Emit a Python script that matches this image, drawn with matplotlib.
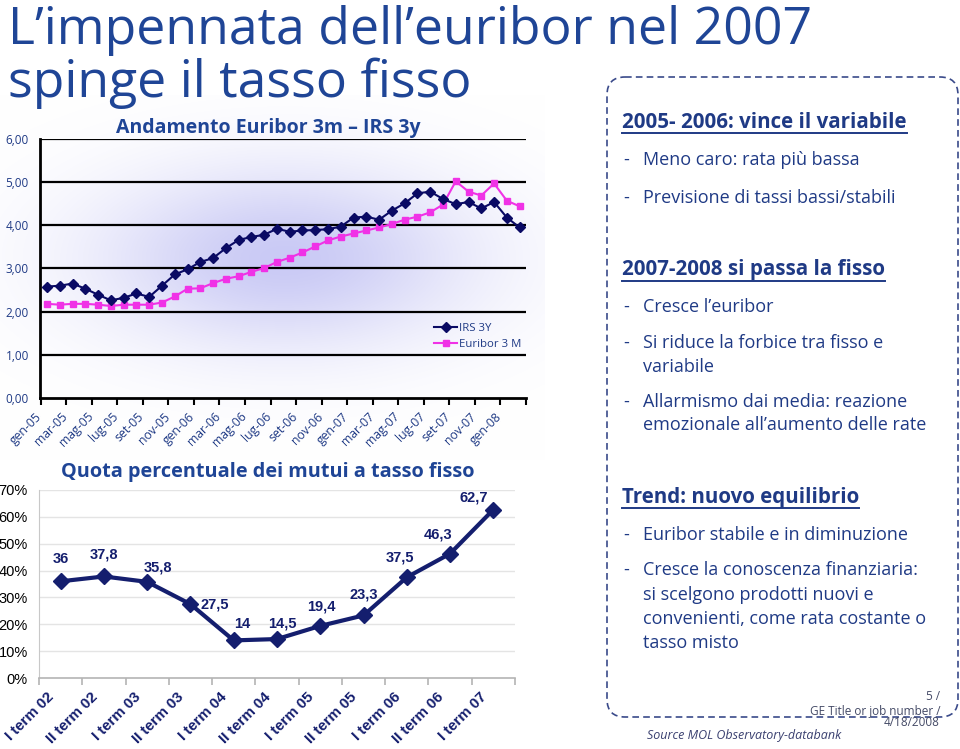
import numpy as np
import matplotlib
matplotlib.use("Agg")
import matplotlib.pyplot as plt
from matplotlib.patches import FancyBboxPatch

# ---------------- data ----------------
month_labels = ["gen-05", "mar-05", "mag-05", "lug-05", "set-05", "nov-05",
                "gen-06", "mar-06", "mag-06", "lug-06", "set-06", "nov-06",
                "gen-07", "mar-07", "mag-07", "lug-07", "set-07", "nov-07",
                "gen-08"]
irs_3y = [2.58, 2.60, 2.65, 2.53, 2.39, 2.26, 2.32, 2.42, 2.34, 2.60,
          2.86, 2.98, 3.15, 3.24, 3.47, 3.66, 3.73, 3.78, 3.92, 3.85,
          3.88, 3.89, 3.91, 3.97, 4.18, 4.20, 4.13, 4.34, 4.51, 4.74,
          4.78, 4.61, 4.49, 4.54, 4.39, 4.54, 4.18, 3.95]
euribor_3m = [2.18, 2.16, 2.18, 2.18, 2.16, 2.13, 2.16, 2.16, 2.16, 2.21,
              2.35, 2.53, 2.54, 2.66, 2.76, 2.82, 2.92, 3.01, 3.15, 3.25,
              3.37, 3.51, 3.65, 3.74, 3.81, 3.88, 3.95, 4.03, 4.13, 4.20,
              4.30, 4.48, 5.02, 4.78, 4.69, 4.97, 4.57, 4.44]
y_ticks_top = [0, 1, 2, 3, 4, 5, 6]

quarters = ["I term 02", "II term 02", "I term 03", "II term 03", "I term 04",
            "II term 04", "I term 05", "II term 05", "I term 06", "II term 06",
            "I term 07"]
quota_fisso = [36, 37.8, 35.8, 27.5, 14, 14.5, 19.4, 23.3, 37.5, 46.3, 62.7]
quota_labels = ["36", "37,8", "35,8", "27,5", "14", "14,5", "19,4", "23,3",
                "37,5", "46,3", "62,7"]
y_ticks_bottom = [0, 10, 20, 30, 40, 50, 60, 70]

# ---------------- style ----------------
W, H = 960, 749
GE = ["Open Sans", "DejaVu Sans"]
ARIAL = ["Liberation Sans", "DejaVu Sans"]
TITLE_C = "#1f4596"
TEXT_C = "#1f3a85"
NAVY = "#0a0a64"
MAGENTA = "#f032e6"
NAVY2 = "#141e6e"

fig = plt.figure(figsize=(W / 100, H / 100), dpi=100)
fig.patch.set_facecolor("white")


def px_axes(l, t, r, b, **kw):
    return fig.add_axes([l / W, 1 - b / H, (r - l) / W, (b - t) / H], **kw)


# ---------- gradient background behind top chart ----------
bg = px_axes(0, 95, 545, 460, zorder=0)
bx = np.linspace(0, 545, 300)
byy = np.linspace(95, 460, 220)
XX, YY = np.meshgrid(bx, byy)
g = np.exp(-(((XX - 285) / 185) ** 2 + ((YY - 258) / 90) ** 2))
base = np.array([1.0, 1.0, 1.0])
peak = np.array([202, 202, 245]) / 255
img = base[None, None, :] * (1 - g[..., None]) + peak[None, None, :] * g[..., None]
bg.imshow(img, extent=[0, 545, 460, 95], aspect="auto", interpolation="bilinear")
bg.set_xlim(0, 545)
bg.set_ylim(460, 95)
bg.axis("off")

# ---------- top chart ----------
ax1 = px_axes(40, 139, 526, 397.9, zorder=2)
ax1.patch.set_alpha(0)
months = np.arange(len(irs_3y))
ax1.plot(months, irs_3y, color=NAVY, lw=1.5, marker="D", ms=5.5,
         label="IRS 3Y", zorder=4)
ax1.plot(months, euribor_3m, color=MAGENTA, lw=1.5, marker="s", ms=5,
         label="Euribor 3 M", zorder=3)
ax1.set_xlim(-0.5, len(irs_3y) - 0.5)
ax1.set_ylim(0, 6)
ax1.set_yticks(y_ticks_top)
ax1.set_yticklabels([f"{v:.2f}".replace(".", ",") for v in y_ticks_top],
                    family=GE, fontsize=8.5, color=TEXT_C)
ax1.tick_params(axis="y", length=0, pad=8)
for v in y_ticks_top[1:]:
    ax1.axhline(v, color="black", lw=1.6, zorder=1)
for s in ["top", "right"]:
    ax1.spines[s].set_visible(False)
ax1.spines["left"].set_linewidth(2)
ax1.spines["bottom"].set_linewidth(2)
ax1.set_xticks(np.arange(-0.5, len(irs_3y), 2), minor=True)
ax1.tick_params(axis="x", which="minor", length=5, width=1.5, color="black")
ax1.set_xticks(np.arange(0, len(irs_3y), 2) - 0.55)
ax1.set_xticklabels(month_labels, family=GE, fontsize=8.8, color=TEXT_C)
ax1.tick_params(axis="x", which="major", length=0, pad=12)
plt.setp(ax1.get_xticklabels(), rotation=45, ha="right", va="center",
         rotation_mode="anchor")
leg = ax1.legend(loc="upper left", bbox_to_anchor=(0.79, 0.33), frameon=False,
                 handlelength=2.0, handletextpad=0.2, labelspacing=0.5,
                 prop={"family": GE, "size": 8.2})
for t in leg.get_texts():
    t.set_color(TEXT_C)

# ---------- bottom chart ----------
ax2 = px_axes(39, 490, 515, 678, zorder=2)
ax2.patch.set_alpha(0)
qx = np.arange(len(quota_fisso))
ax2.plot(qx, quota_fisso, color=NAVY2, lw=3, marker="D", ms=8.5, zorder=4,
         clip_on=False)
ax2.set_xlim(-0.5, len(quota_fisso) - 0.5)
ax2.set_ylim(0, 70)
ax2.set_yticks(y_ticks_bottom)
ax2.set_yticklabels([f"{v}%" for v in y_ticks_bottom], family=ARIAL,
                    fontsize=10.5, color="black")
ax2.tick_params(axis="y", length=0, pad=8)
for v in y_ticks_bottom[1:]:
    ax2.axhline(v, color="#e4e4e4", lw=1, zorder=1)
for s in ["top", "right"]:
    ax2.spines[s].set_visible(False)
ax2.spines["left"].set_color("#c8c8c8")
ax2.spines["bottom"].set_color("#b4b4b4")
ax2.spines["bottom"].set_linewidth(1.2)
ax2.set_xticks(np.arange(-0.5, len(quota_fisso), 1), minor=True)
ax2.tick_params(axis="x", which="minor", length=5, width=1.2, color="#b4b4b4")
ax2.set_xticks(qx - 0.2)
ax2.set_xticklabels(quarters, family=ARIAL, fontsize=10.8, weight="bold",
                    color=NAVY2)
ax2.tick_params(axis="x", which="major", length=0, pad=12)
plt.setp(ax2.get_xticklabels(), rotation=45, ha="right", va="center",
         rotation_mode="anchor")
lab_off = [(0, 16, "center"), (0, 16, "center"), (8, 10, "center"),
           (7, 0, "left"), (6, 12, "center"), (4, 11, "center"),
           (1, 14, "center"), (0, 15, "center"), (-5, 14, "center"),
           (-9, 14, "center"), (-14, 9, "center")]
for xi, yi, lab, (dx, dy, ha) in zip(qx, quota_fisso, quota_labels, lab_off):
    ax2.annotate(lab, (xi, yi), xytext=(dx, dy), textcoords="offset points",
                 ha=ha, va="center", family=ARIAL, fontsize=10.5,
                 weight="bold", color=NAVY2, zorder=5)

# ---------- overlay for text and box ----------
ov = fig.add_axes([0, 0, 1, 1], zorder=5)
ov.set_xlim(0, W)
ov.set_ylim(H, 0)
ov.axis("off")
ov.patch.set_alpha(0)

ov.text(8, 44, "L\u2019impennata dell\u2019euribor nel 2007", family=GE,
        fontsize=37.3, color=TITLE_C, va="baseline", ha="left")
ov.text(8, 97, "spinge il tasso fisso", family=GE, fontsize=37.3,
        color=TITLE_C, va="baseline", ha="left")
ov.text(268, 128, "Andamento Euribor 3m \u2013 IRS 3y", family=GE,
        fontsize=14, weight="bold", color=TITLE_C, ha="center", va="center")
ov.text(268, 472, "Quota percentuale dei mutui a tasso fisso", family=GE,
        fontsize=14.3, weight="bold", color=TITLE_C, ha="center", va="center")

box = FancyBboxPatch((607, 77), 351, 640,
                     boxstyle="round,pad=0,rounding_size=18",
                     fill=False, edgecolor="#3a4a8a", lw=1.2,
                     linestyle=(0, (4, 2.5)))
ov.add_patch(box)

heads = [(622, 122, "2005- 2006: vince il variabile"),
         (622, 270, "2007-2008 si passa la fisso"),
         (622, 497, "Trend: nuovo equilibrio")]
head_texts = []
for x, y, s in heads:
    t = ov.text(x, y, s, family=GE, fontsize=14.8, weight="bold", color=TEXT_C,
                ha="left", va="center")
    head_texts.append(t)

bullets = [(160, True, "Meno caro: rata pi\u00f9 bassa"),
           (198, True, "Previsione di tassi bassi/stabili"),
           (307, True, "Cresce l\u2019euribor"),
           (343, True, "Si riduce la forbice tra fisso e"),
           (367, False, "variabile"),
           (402, True, "Allarmismo dai media: reazione"),
           (425, False, "emozionale all\u2019aumento delle rate"),
           (535, True, "Euribor stabile e in diminuzione"),
           (570, True, "Cresce la conoscenza finanziaria:"),
           (595, False, "si scelgono prodotti nuovi e"),
           (619, False, "convenienti, come rata costante o"),
           (643, False, "tasso misto")]
for y, dash, s in bullets:
    if dash:
        ov.text(623, y, "-", family=GE, fontsize=13, color=TEXT_C,
                ha="left", va="center")
    ov.text(643, y, s, family=GE, fontsize=13, color=TEXT_C, ha="left",
            va="center")

ov.text(940, 697, "5 /", family=GE, fontsize=8.5, color="#444a66",
        ha="right", va="center")
ov.text(940, 711, "GE Title or job number /", family=GE, fontsize=8.5,
        color="#444a66", ha="right", va="center")
ov.text(940, 723, "4/18/2008", family=GE, fontsize=8.5, color="#444a66",
        ha="right", va="center")
ov.text(647, 736, "Source MOL Observatory-databank", family=GE, fontsize=9,
        style="italic", color="#3a4070", ha="left", va="center")

# underline headings
fig.canvas.draw()
r = fig.canvas.get_renderer()
for t in head_texts:
    bb = t.get_window_extent(r)
    yline = H - bb.y0 + 0.5
    ov.plot([bb.x0, bb.x1], [yline, yline], color=TEXT_C, lw=1.4)

fig.savefig("out.png", dpi=100, facecolor="white")
